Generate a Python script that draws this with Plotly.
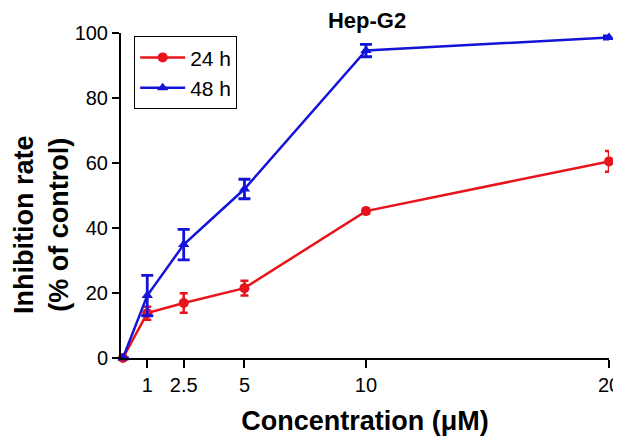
import plotly.graph_objects as go

concentration = [0, 1, 2.5, 5, 10, 20]
tick_labels = ["1", "2.5", "5", "10", "20"]
tick_vals = [1, 2.5, 5, 10, 20]

rate_24h = [0, 13.8, 16.9, 21.5, 45.2, 60.5]
err_24h = [0, 2.0, 3.0, 2.3, 0.8, 3.2]

rate_48h = [0, 19.2, 34.9, 52.0, 94.6, 98.6]
err_48h = [0, 6.2, 4.7, 3.0, 1.9, 0.5]

FONT = "Arial, Liberation Sans, sans-serif"
RED = "#e8141c"
BLUE = "#1414d8"

W, H = 613, 428          # page body has an 8px margin
L, R, T, B = 113, 12, 25, 78

fig = go.Figure()
fig.add_trace(go.Scatter(
    x=concentration, y=rate_24h, name="24 h", mode="lines+markers",
    line=dict(color=RED, width=2.5),
    marker=dict(symbol="circle", size=10, color=RED),
    error_y=dict(type="data", array=err_24h, color=RED, thickness=2.5, width=4),
    cliponaxis=False,
))
fig.add_trace(go.Scatter(
    x=concentration, y=rate_48h, name="48 h", mode="lines+markers",
    line=dict(color=BLUE, width=2.5),
    marker=dict(symbol="triangle-up", size=10, color=BLUE),
    error_y=dict(type="data", array=err_48h, color=BLUE, thickness=2.8, width=6),
    cliponaxis=False,
))

fig.update_layout(
    width=W, height=H,
    margin=dict(l=L, r=R, t=T, b=B, autoexpand=False),
    paper_bgcolor="white", plot_bgcolor="white",
    font=dict(family=FONT, size=20, color="black"),
    title=dict(text="<b>Hep-G2</b>", x=359 / W, xanchor="center",
               y=1 - 12 / H, yanchor="middle", pad=dict(t=0, b=0),
               font=dict(size=22)),
    showlegend=True,
    legend=dict(x=0.027, y=0.99, xanchor="left", yanchor="top",
                bordercolor="black", borderwidth=1, bgcolor="white",
                font=dict(size=21), tracegroupgap=0, itemwidth=45),
    xaxis=dict(range=[-0.08, 20], tickvals=tick_vals, ticktext=tick_labels,
               automargin=False, ticklabeloverflow="allow",
               showgrid=False, zeroline=False, showline=True, linecolor="black",
               linewidth=2, ticks="outside", ticklen=8, tickwidth=2,
               tickcolor="black",
               title=dict(text="<b>Concentration (μM)</b>", font=dict(size=27),
                          standoff=17)),
    yaxis=dict(range=[0, 100], tickvals=[0, 20, 40, 60, 80, 100],
               automargin=False,
               showgrid=False, zeroline=False, showline=True, linecolor="black",
               linewidth=2, ticks="outside", ticklen=7, tickwidth=2,
               tickcolor="black"),
    annotations=[dict(
        text="<b>Inhibition rate<br>(% of control)</b>",
        xref="paper", yref="paper", x=(33 - L) / (W - L - R), y=0.409,
        xanchor="center", yanchor="middle", textangle=-90, showarrow=False,
        font=dict(size=27, family=FONT, color="black"),
    )],
)

fig.write_html("out.html")
